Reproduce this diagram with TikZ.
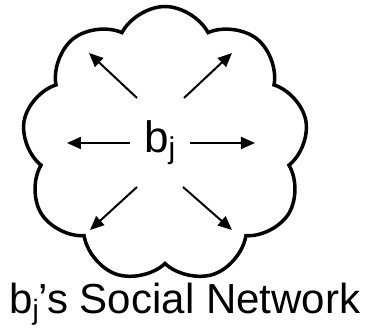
\documentclass[tikz,border=0pt]{standalone}
\usepackage{fontspec}
\setmainfont{Liberation Sans}
\usetikzlibrary{shapes.symbols,arrows.meta}

\tikzset{
	ray/.style={-{Triangle[length=14pt,width=12pt]}, line width=2pt}
}
\newcommand{\subj}[1]{{\fontsize{#1}{#1}\selectfont\raisebox{-0.2em}{j}}}

\begin{document}
\begin{tikzpicture}[x=1pt,y=1pt]
		\useasboundingbox (0,0) rectangle (368,328);
		\node (net) [draw, cloud, cloud puffs=9, cloud puff arc=125, line width=3.5pt, minimum width=286pt, minimum height=276pt, inner sep=0pt] at (165,183.5) {};
		\node (bj) [anchor=base west, inner sep=0pt, font=\fontsize{44}{50}\selectfont] at (144,175) {b\subj{30}};
		\node (cap) [anchor=base west, inner sep=0pt, font=\fontsize{42}{46}\selectfont] at (9,14) {b\subj{28}’s Social Network};
		
		\coordinate (l-s) at (130,185);  \coordinate (l-e) at (67,185);
		\coordinate (r-s) at (190,185);  \coordinate (r-e) at (255,185);
		\coordinate (ul-s) at (137,230); \coordinate (ul-e) at (89,275);
		\coordinate (ur-s) at (184,230); \coordinate (ur-e) at (232,275);
		\coordinate (ll-s) at (137,141); \coordinate (ll-e) at (90,98);
		\coordinate (lr-s) at (183,141); \coordinate (lr-e) at (232,98);
		
		\draw[ray] (l-s)--(l-e);
		\draw[ray] (r-s)--(r-e);
		\draw[ray] (ul-s)--(ul-e);
		\draw[ray] (ur-s)--(ur-e);
		\draw[ray] (ll-s)--(ll-e);
		\draw[ray] (lr-s)--(lr-e);
	\end{tikzpicture}
\end{document}
